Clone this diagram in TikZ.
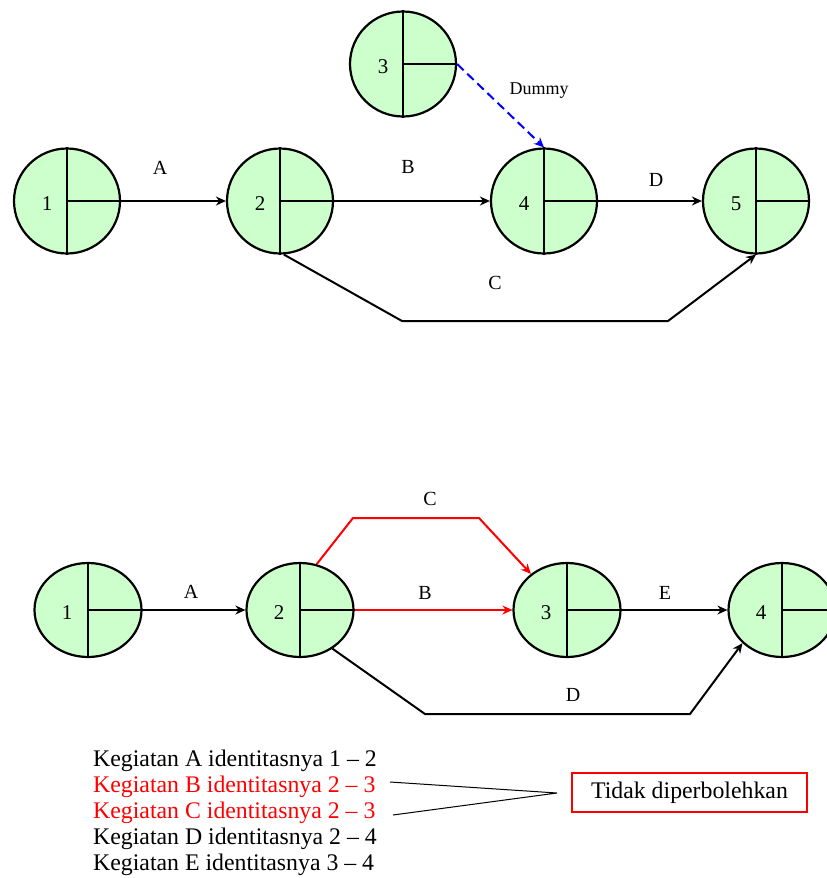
\documentclass[tikz,border=0pt]{standalone}
\usepackage{fontspec}
\setmainfont{Liberation Serif}
\usetikzlibrary{arrows.meta,shapes.geometric,calc}
\definecolor{evgreen}{RGB}{204,255,204}
\newcommand\evtnode[5]{%
  \node[#1] (#2) at (#3) {};
  \draw[sep] (#2.north) -- (#2.south) (#2.center) -- (#2.east);
  \node[numlbl] (#2l) at ($(#2.center)+(#5,3)$) {#4};
}
\begin{document}
\begin{tikzpicture}[x=1pt,y=-1pt,
  ev/.style={ellipse,draw,line width=2.2pt,fill=evgreen,inner sep=0pt},
  topev/.style={ev,minimum width=106pt,minimum height=105pt},
  botev/.style={ev,minimum width=107pt,minimum height=94pt},
  sep/.style={line width=2.4pt},
  conn/.style={line width=2pt,-{Stealth[length=10pt,width=9pt]}},
  numlbl/.style={font=\fontsize{21}{23}\selectfont},
  lbl/.style={font=\fontsize{20}{22}\selectfont},
  txt/.style={anchor=base west,inner sep=0pt,font=\fontsize{23.8}{26}\selectfont},
]
\useasboundingbox (0,0) rectangle (827,878);

% top diagram
\evtnode{topev}{t1}{67,201}{1}{-20}
\evtnode{topev}{t2}{280,201}{2}{-20}
\evtnode{topev}{t3}{403,64}{3}{-20}
\evtnode{topev}{t4}{544,201}{4}{-20}
\evtnode{topev}{t5}{756,201}{5}{-20}

\draw[conn] (t1.east) -- (t2.west);
\draw[conn] (t2.east) -- (t4.west);
\draw[conn] (t4.east) -- (t5.west);
\coordinate (tc1) at (402,321);
\coordinate (tc2) at (668,321);
\draw[conn] (t2.-86) -- (tc1) -- (tc2) -- (t5.south);
\draw[conn,blue,dash pattern=on 9pt off 5pt] (t3.east) -- (t4.north);

\node[lbl] (lA) at (160,168) {A};
\node[lbl] (lB) at (408,167) {B};
\node[lbl] (lD) at (656,180) {D};
\node[lbl] (lC) at (495,283) {C};
\node[font=\fontsize{18}{20}\selectfont] (ldum) at (539,91) {Dummy};

% bottom diagram
\evtnode{botev}{b1}{88,610}{1}{-21}
\evtnode{botev}{b2}{300,610}{2}{-21}
\evtnode{botev}{b3}{567,610}{3}{-21}
\evtnode{botev}{b4}{782,610}{4}{-21}

\draw[conn] (b1.east) -- (b2.west);
\draw[conn,red] (b2.east) -- (b3.west);
\draw[conn] (b3.east) -- (b4.west);
\coordinate (bc1) at (353,518);
\coordinate (bc2) at (479,518);
\draw[conn,red] (b2.70) -- (bc1) -- (bc2) -- (b3.135);
\coordinate (bd1) at (425,714);
\coordinate (bd2) at (690,714);
\draw[conn] (b2.-50) -- (bd1) -- (bd2) -- (b4.-140);

\node[lbl] (mA) at (191,592) {A};
\node[lbl] (mB) at (425,593) {B};
\node[lbl] (mC) at (430,499) {C};
\node[lbl] (mE) at (665,593) {E};
\node[lbl] (mD) at (573,695) {D};

% list
\node[txt] (k1) at (93,766) {Kegiatan A identitasnya 1 – 2};
\node[txt,red] (k2) at (93,792) {Kegiatan B identitasnya 2 – 3};
\node[txt,red] (k3) at (93,818) {Kegiatan C identitasnya 2 – 3};
\node[txt] (k4) at (93,844) {Kegiatan D identitasnya 2 – 4};
\node[txt] (k5) at (93,870) {Kegiatan E identitasnya 3 – 4};

\node[draw=red,line width=1.2pt,minimum width=235pt,minimum height=39pt,inner sep=0pt,
      font=\fontsize{23.8}{26}\selectfont] (tidak) at (689.5,792.5) {Tidak diperbolehkan};
\coordinate (apex) at (557,793);
\coordinate (s1) at (390,782);
\coordinate (s2) at (393,815);
\draw[line width=1pt] (s1) -- (apex) -- (s2);
\end{tikzpicture}
\end{document}
